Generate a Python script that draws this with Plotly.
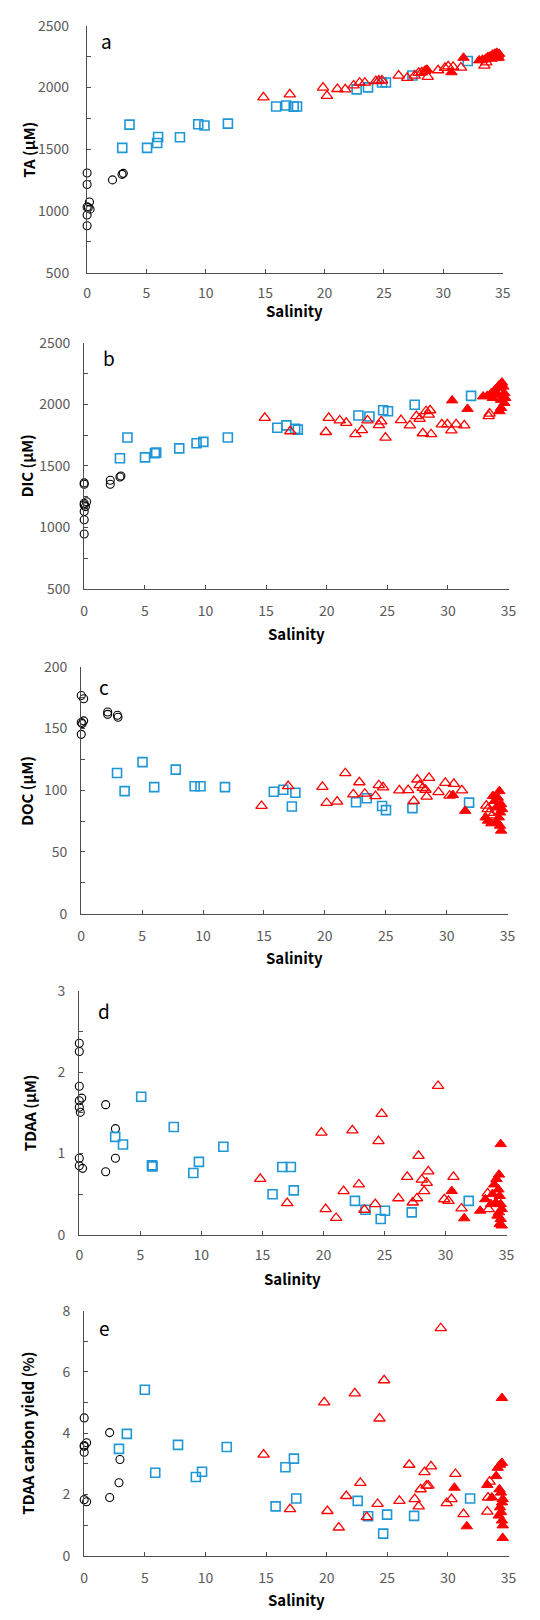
import plotly.graph_objects as go

# ---------------- Panel a : TA ----------------
a_riv_s = [0.0, 0.0, 0.2, 0.0, 0.1, 0.25, 0.0, 0.0, 2.14, 2.94, 3.05]
a_riv_v = [1308, 1215, 1073, 1033, 1028, 1015, 967, 881, 1252, 1297, 1305]
a_sq_s = [2.96, 3.57, 5.05, 5.9, 5.98, 7.82, 9.36, 9.88, 11.86, 15.92, 16.77, 17.4, 17.68,
          22.7, 23.66, 24.84, 25.17, 27.4, 32.06]
a_sq_v = [1511, 1700, 1511, 1551, 1599, 1597, 1703, 1692, 1708, 1847, 1855, 1844, 1847,
          1985, 2001, 2041, 2041, 2097, 2215]
a_ot_s = [14.85, 17.07, 19.87, 20.2, 21.08, 21.74, 22.45, 22.95, 23.39, 24.32, 24.57, 24.84,
          26.24, 26.96, 27.59, 27.92, 28.19, 28.47, 28.69, 29.56, 30.14, 30.41, 30.83, 31.49,
          33.46, 33.63]
a_ot_v = [1921, 1945, 1999, 1932, 1988, 1985, 2017, 2039, 2039, 2052, 2057, 2057,
          2097, 2079, 2097, 2119, 2124, 2135, 2087, 2140, 2159, 2172, 2167, 2161,
          2177, 2204]
a_ft_s = [28.63, 30.69, 31.7, 33.02, 33.3, 33.57, 33.76, 33.96, 34.17, 34.34, 34.5, 34.59,
          34.67, 34.4, 34.07, 34.7]
a_ft_v = [2145, 2124, 2241, 2220, 2225, 2233, 2247, 2252, 2268, 2273, 2281, 2260,
          2241, 2241, 2233, 2273]

# ---------------- Panel b : DIC ----------------
b_riv_s = [0.0, 0.0, 0.0, 0.2, 0.0, 0.1, 0.0, 0.0, 0.0, 2.15, 2.15, 2.95, 3.03]
b_riv_v = [1361, 1350, 1195, 1208, 1182, 1168, 1128, 1061, 946, 1382, 1350, 1409, 1417]
b_sq_s = [2.95, 3.57, 5.02, 5.83, 5.94, 7.84, 9.27, 9.83, 11.85, 15.93, 16.68, 17.4, 17.62,
          22.62, 23.53, 24.66, 25.06, 27.26, 31.91]
b_sq_v = [1561, 1730, 1569, 1602, 1607, 1642, 1684, 1695, 1730, 1810, 1829, 1802, 1794,
          1909, 1901, 1952, 1944, 1997, 2069]
b_ot_s = [14.9, 17.0, 19.93, 20.17, 21.08, 21.62, 22.37, 22.91, 23.37, 24.31, 24.5, 24.85,
          26.13, 26.86, 27.4, 27.67, 27.93, 28.2, 28.42, 28.53, 28.61, 29.5, 29.95, 30.28,
          30.68, 31.35, 33.36, 33.44]
b_ot_v = [1890, 1781, 1775, 1890, 1869, 1850, 1757, 1791, 1869, 1831, 1861, 1730,
          1872, 1829, 1904, 1882, 1765, 1944, 1917, 1952, 1757, 1837, 1837, 1789,
          1837, 1829, 1904, 1925]
b_ft_s = [30.35, 31.62, 32.9, 33.25, 33.58, 33.84, 34.03, 34.25, 34.46, 34.57, 34.65, 34.73,
          34.65, 34.38, 34.25, 34.11, 34.38, 33.71]
b_ft_v = [2032, 1963, 2064, 2069, 2091, 2112, 2131, 2158, 2177, 2144, 2091, 2051,
          2011, 1971, 1944, 2078, 2037, 2051]

# ---------------- Panel c : DOC ----------------
c_riv_s = [0.0, 0.2, 0.2, 0.0, -0.1, 0.0, 0.08, 2.17, 2.17, 2.97, 3.02]
c_riv_v = [176.8, 174.1, 156.2, 154.9, 152.7, 145.3, 154.0, 163.4, 161.5, 160.7, 159.1]
c_sq_s = [2.94, 3.56, 5.03, 5.99, 7.76, 9.31, 9.79, 11.8, 15.81, 16.59, 17.29, 17.58,
          22.56, 23.44, 24.7, 25.02, 27.19, 31.84]
c_sq_v = [114.0, 99.3, 122.8, 102.5, 116.7, 103.3, 103.3, 102.5, 98.8, 100.4, 86.8, 98.0,
          90.3, 93.5, 87.3, 83.9, 85.5, 90.0]
c_ot_s = [14.8, 16.99, 19.8, 20.15, 21.01, 21.68, 22.34, 22.83, 23.28, 24.16, 24.43, 24.78,
          26.12, 26.84, 27.3, 27.59, 27.78, 28.04, 28.26, 28.36, 28.55, 29.33, 29.89, 30.24,
          30.59, 31.25, 33.26, 33.37, 33.48, 33.74]
c_ot_v = [87.3, 103.3, 102.8, 89.7, 90.8, 113.8, 96.7, 106.5, 97.2, 95.3, 104.1, 102.3,
          99.9, 100.1, 91.3, 108.7, 104.1, 102.0, 100.4, 94.8, 110.0, 98.5, 106.0, 95.6,
          105.2, 99.9, 87.6, 84.7, 81.7, 79.6]
c_ft_s = [30.51, 31.52, 33.2, 33.4, 33.67, 33.93, 34.07, 34.2, 34.33, 34.38, 34.47, 34.38,
          34.47, 34.28, 34.12, 34.55, 33.8]
c_ft_v = [96.1, 83.3, 78.0, 75.3, 73.2, 91.3, 86.0, 94.0, 99.3, 82.0, 88.7, 71.3,
          67.3, 78.0, 74.0, 84.7, 95.3]

# ---------------- Panel d : TDAA ----------------
d_riv_s = [0.0, 0.0, 0.0, 0.0, 0.2, 0.0, 0.08, 0.0, 0.0, 0.27, 2.16, 2.16, 2.96, 2.96]
d_riv_v = [2.354, 2.253, 1.825, 1.647, 1.68, 1.567, 1.506, 0.941, 0.848, 0.816, 1.599,
           0.775, 1.304, 0.941]
d_sq_s = [2.94, 3.58, 5.07, 5.95, 6.0, 7.74, 9.34, 9.8, 11.8, 15.83, 16.63, 17.33, 17.57,
          22.58, 23.44, 24.69, 25.04, 27.23, 31.9]
d_sq_v = [1.203, 1.11, 1.696, 0.852, 0.84, 1.324, 0.759, 0.896, 1.082, 0.497, 0.832, 0.832,
          0.545, 0.416, 0.307, 0.194, 0.295, 0.275, 0.416]
d_ot_s = [14.82, 17.03, 19.83, 20.18, 21.04, 21.65, 22.37, 22.9, 23.36, 24.24, 24.51, 24.77,
          26.14, 26.86, 27.31, 27.66, 27.79, 28.06, 28.25, 28.46, 28.59, 29.39, 29.9, 30.24,
          30.65, 31.31, 33.45, 33.53]
d_ot_v = [0.686, 0.388, 1.256, 0.315, 0.206, 0.537, 1.284, 0.618, 0.307, 0.376, 1.151, 1.486,
          0.448, 0.711, 0.396, 0.448, 0.969, 0.678, 0.537, 0.638, 0.779, 1.829, 0.436, 0.416,
          0.711, 0.323, 0.509, 0.315]
d_ft_s = [30.51, 31.53, 32.84, 33.26, 33.72, 33.98, 34.17, 34.38, 34.52, 34.33, 34.44, 34.52,
          34.38, 34.52, 34.44, 34.25, 34.12, 34.6, 34.6, 33.85]
d_ft_v = [0.537, 0.202, 0.295, 0.436, 0.376, 0.618, 0.686, 0.739, 1.114, 0.557, 0.476, 0.376,
          0.275, 0.194, 0.133, 0.234, 0.396, 0.315, 0.113, 0.5]

# ---------------- Panel e : TDAA carbon yield ----------------
e_riv_s = [0.0, 0.0, 0.0, 0.2, 0.0, 2.95, 2.1, 2.87, 2.1, 0.0, 0.2]
e_riv_v = [4.5, 3.6, 3.57, 3.69, 3.38, 3.14, 4.02, 2.38, 1.9, 1.83, 1.76]
e_sq_s = [2.87, 3.52, 5.0, 5.86, 7.74, 9.21, 9.72, 11.76, 15.79, 16.6, 17.3, 17.49,
          22.56, 23.42, 24.66, 24.98, 27.21, 31.83]
e_sq_v = [3.49, 3.98, 5.42, 2.71, 3.62, 2.57, 2.74, 3.55, 1.61, 2.89, 3.17, 1.87,
          1.79, 1.29, 0.72, 1.34, 1.3, 1.87]
e_ot_s = [14.8, 16.98, 19.8, 20.06, 21.0, 21.62, 22.32, 22.78, 23.31, 24.2, 24.36, 24.74,
          26.0, 26.81, 27.26, 27.59, 27.75, 28.07, 28.23, 28.39, 28.61, 29.41, 29.9, 30.3,
          30.62, 31.29, 33.25, 33.44, 33.31]
e_ot_v = [3.3, 1.52, 5.01, 1.46, 0.92, 1.95, 5.3, 2.38, 1.26, 1.69, 4.48, 5.73,
          1.79, 2.97, 1.85, 1.61, 2.17, 2.73, 2.29, 2.29, 2.92, 7.43, 1.72, 1.85,
          2.67, 1.36, 1.44, 2.42, 1.9]
e_ft_s = [30.54, 31.56, 33.25, 33.63, 33.98, 34.11, 34.3, 34.46, 34.46, 34.52, 34.25, 34.38,
          34.46, 34.38, 34.46, 34.52, 34.19, 34.3, 34.52]
e_ft_v = [2.22, 0.96, 2.31, 1.9, 2.6, 2.87, 2.97, 3.03, 5.15, 0.58, 2.17, 2.06,
          1.74, 1.42, 1.15, 0.99, 1.31, 1.58, 1.85]

y_titles = ["TA (μM)", "DIC (μM)", "DOC (μM)", "TDAA (μM)", "TDAA carbon yield (%)"]
panel_letters = ["a", "b", "c", "d", "e"]
x_ticks = [0, 5, 10, 15, 20, 25, 30, 35]
y_ranges = [[500, 2500], [500, 2500], [0, 200], [0, 3], [0, 8]]
y_major = [500, 500, 50, 1, 2]
y_minor = [250, 250, 25, 0.5, 1]

panels = [
    (a_riv_s, a_riv_v, a_sq_s, a_sq_v, a_ot_s, a_ot_v, a_ft_s, a_ft_v),
    (b_riv_s, b_riv_v, b_sq_s, b_sq_v, b_ot_s, b_ot_v, b_ft_s, b_ft_v),
    (c_riv_s, c_riv_v, c_sq_s, c_sq_v, c_ot_s, c_ot_v, c_ft_s, c_ft_v),
    (d_riv_s, d_riv_v, d_sq_s, d_sq_v, d_ot_s, d_ot_v, d_ft_s, d_ft_v),
    (e_riv_s, e_riv_v, e_sq_s, e_sq_v, e_ot_s, e_ot_v, e_ft_s, e_ft_v),
]

# layout geometry (pixels)
W, H = 540, 1620
boxes = [  # x0, x1, ytop, ybottom
    (85, 510, 15, 265),
    (82, 516, 336, 585),
    (79, 515, 664, 914),
    (77, 514, 992, 1239),
    (82, 516, 1316, 1564),
]
ytitle_x = [25, 23, 23, 26, 24]
xtitle_off = [38, 45, 44, 44, 44]
ylab_stand = [14, 10, 10, 10, 10]
xlab_stand = [7, 9, 9, 7, 9]
letter_pos = [(105, 30), (107, 351), (102, 684), (102, 1012), (103, 1333)]

BLUE = "#1f96d5"
RED = "#ff0000"
AX = "#4d4d4d"
TICKC = "#595959"
FONT = "Noto Sans CJK SC, Noto Sans, sans-serif"

fig = go.Figure()
layout = dict(width=W, height=H, margin=dict(l=0, r=0, t=0, b=0),
              paper_bgcolor="white", plot_bgcolor="white", showlegend=False,
              font=dict(family=FONT, color=TICKC, size=14))
annotations = []

for i, (rs, rv, ss, sv, os_, ov, fs, fv) in enumerate(panels):
    k = "" if i == 0 else str(i + 1)
    xa, ya = "x" + k, "y" + k
    common = dict(xaxis=xa, yaxis=ya, mode="markers", cliponaxis=False, hoverinfo="skip")
    fig.add_trace(go.Scatter(x=rs, y=rv, marker=dict(symbol="circle-open", size=8,
                  color="black", line=dict(width=1.1, color="black")), **common))
    fig.add_trace(go.Scatter(x=ss, y=sv, marker=dict(symbol="square-open", size=9,
                  color=BLUE, line=dict(width=1.6, color=BLUE)), **common))
    fig.add_trace(go.Scatter(x=os_, y=ov, marker=dict(symbol="triangle-up-open", size=10,
                  color=RED, line=dict(width=1.3, color=RED)), **common))
    fig.add_trace(go.Scatter(x=fs, y=fv, marker=dict(symbol="triangle-up", size=10,
                  color=RED, line=dict(width=1, color=RED)), **common))

    x0, x1, yt, yb = boxes[i]
    layout["xaxis" + k] = dict(
        domain=[x0 / W, x1 / W], range=[0, 35], anchor=ya,
        tickvals=x_ticks, ticks="inside", ticklen=4, tickwidth=1, tickcolor=AX,
        showline=True, linecolor=AX, linewidth=1.3, showgrid=False, zeroline=False,
        tickfont=dict(size=14, color=TICKC, family=FONT), ticklabelstandoff=xlab_stand[i],
        fixedrange=True)
    layout["yaxis" + k] = dict(
        domain=[1 - yb / H, 1 - yt / H], range=y_ranges[i], anchor=xa,
        dtick=y_major[i], tick0=0, ticks="inside", ticklen=4, tickwidth=1, tickcolor=AX,
        minor=dict(dtick=y_minor[i], tick0=0, ticks="inside", ticklen=4, tickwidth=1,
                   tickcolor=AX, showgrid=False),
        showline=True, linecolor=AX, linewidth=1.3, showgrid=False, zeroline=False,
        tickfont=dict(size=14, color=TICKC, family=FONT), ticklabelstandoff=ylab_stand[i],
        fixedrange=True)

    # y-axis title
    annotations.append(dict(text="<b>" + y_titles[i] + "</b>", xref="paper", yref="paper",
                            x=ytitle_x[i] / W, y=1 - ((yt + yb) / 2) / H, textangle=-90,
                            showarrow=False, xanchor="center", yanchor="middle",
                            font=dict(size=15, color="black", family=FONT)))
    # x-axis title
    annotations.append(dict(text="<b>Salinity</b>", xref="paper", yref="paper",
                            x=((x0 + x1) / 2) / W, y=1 - (yb + xtitle_off[i]) / H,
                            showarrow=False, xanchor="center", yanchor="middle",
                            font=dict(size=15, color="black", family=FONT)))
    # panel letter
    lx, ly = letter_pos[i]
    annotations.append(dict(text=panel_letters[i], xref="paper", yref="paper",
                            x=lx / W, y=1 - ly / H, showarrow=False,
                            xanchor="center", yanchor="middle",
                            font=dict(size=19, color="black", family=FONT)))

layout["annotations"] = annotations
fig.update_layout(**layout)
fig.write_html("out.html")
